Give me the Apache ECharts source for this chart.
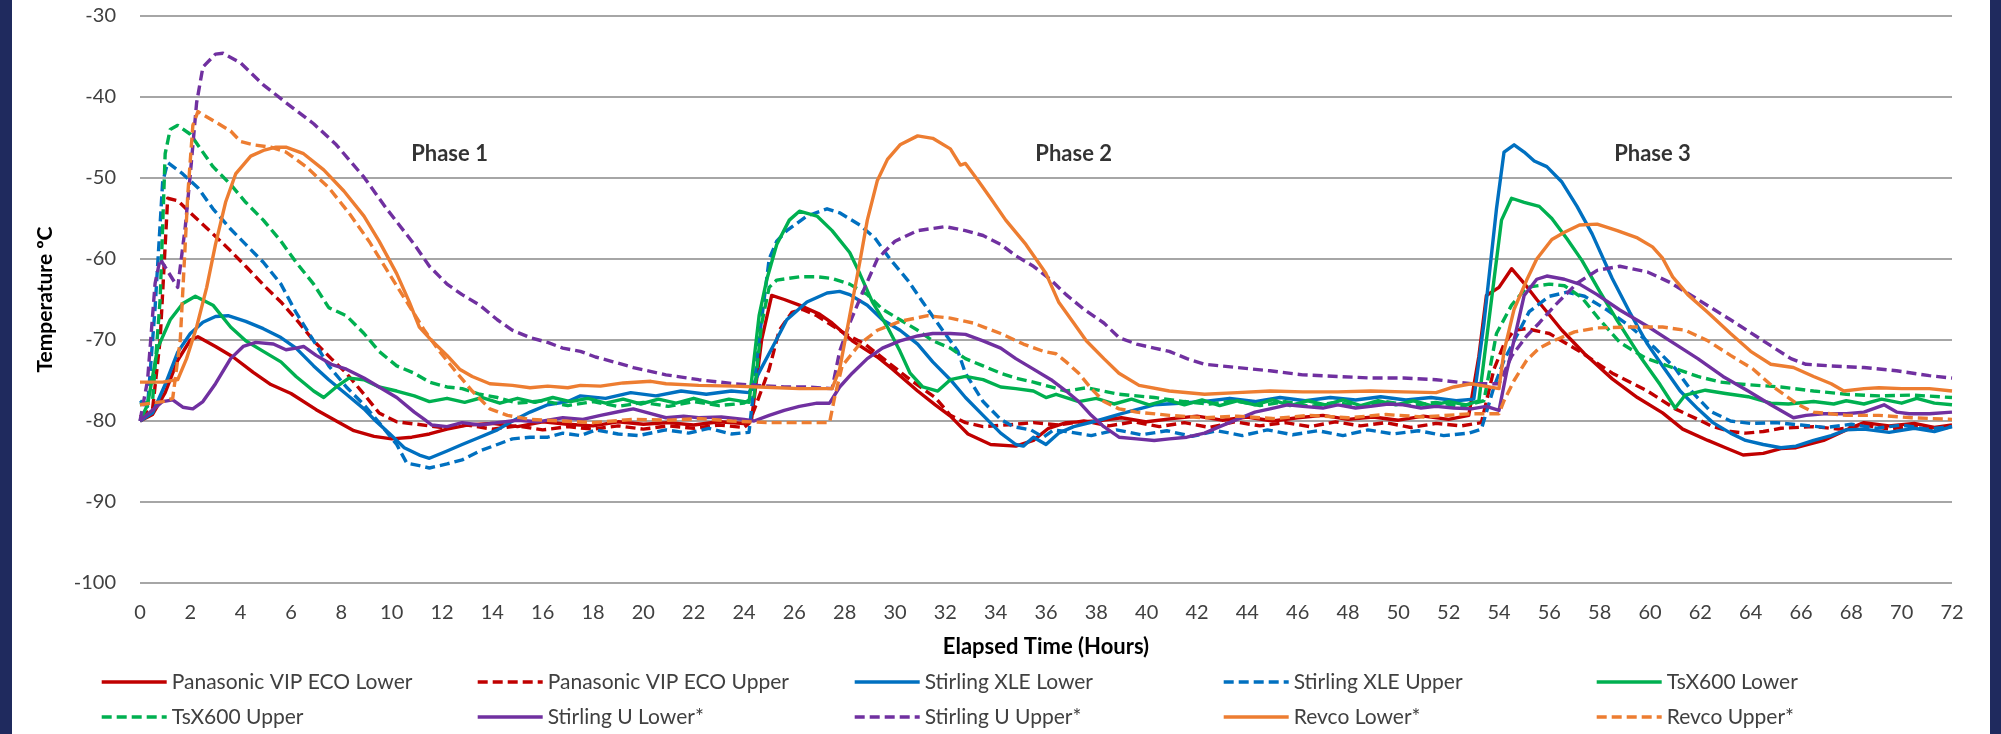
<!DOCTYPE html>
<html>
<head>
<meta charset="utf-8">
<script src="https://cdn.jsdelivr.net/npm/echarts@6/dist/echarts.min.js"></script>
<style>
html,body{margin:0;padding:0;background:#ffffff;}
#chart{width:2001px;height:734px;}
</style>
</head>
<body>
<div id="chart"></div>
<script>
// ---- Tick / label data ----
const xMin = 0, xMax = 72, xStep = 2;
const yMin = -100, yMax = -30, yStep = 10;
const phaseNames = ['Phase 1', 'Phase 2', 'Phase 3'];
const phaseHours = [12.3, 37.1, 60.1];
const phaseTemps = [-47, -47, -47];

const seriesNames = [
  'Panasonic VIP ECO Lower', 'Panasonic VIP ECO Upper',
  'Stirling XLE Lower', 'Stirling XLE Upper',
  'TsX600 Lower', 'TsX600 Upper',
  'Stirling U Lower*', 'Stirling U Upper*',
  'Revco Lower*', 'Revco Upper*'
];

// ---- Series values: [elapsed hours, temperature °C] ----
const panasonicLower = [[0,-80],[0.5,-79.2],[1,-76.5],[1.5,-72.5],[2,-70],[2.3,-69.6],[3,-70.8],[3.7,-72.1],[4.5,-74],[5.2,-75.5],[6,-76.6],[7,-78.6],[7.8,-80],[8.5,-81.2],[9.3,-81.9],[10,-82.2],[10.8,-82],[11.5,-81.6],[12.2,-81],[13,-80.5],[14,-80.3],[15,-80.7],[16,-80.1],[17,-80.4],[18,-80.6],[19,-80.1],[20,-80.4],[21,-80.2],[22,-80.5],[23,-80.1],[24,-80.3],[24.3,-79.8],[24.7,-70],[25.1,-64.5],[25.6,-65],[26.2,-65.7],[27,-66.8],[27.5,-67.9],[28.3,-70.1],[29.3,-72.1],[29.9,-73.6],[30.9,-76.3],[31.6,-78],[32.2,-79.4],[32.9,-81.6],[33.8,-82.9],[34.8,-83.1],[35.5,-82.4],[36.1,-80.9],[36.8,-80.2],[38,-80],[39,-79.6],[40,-80.1],[41,-79.7],[42,-79.4],[43,-79.9],[44,-79.5],[45,-80],[46,-79.6],[47,-79.3],[48,-79.8],[49,-79.5],[50,-79.9],[51,-79.4],[52,-79.8],[52.8,-79.3],[53.2,-72],[53.5,-64.5],[54,-63.5],[54.5,-61.2],[55,-63],[55.5,-65],[56.5,-68.8],[57.4,-71.7],[58.5,-74.8],[59.5,-77.1],[60.5,-79],[61.3,-81],[62.3,-82.4],[63,-83.3],[63.7,-84.2],[64.5,-84],[65.2,-83.4],[65.8,-83.3],[66.9,-82.4],[67.8,-81.1],[68.5,-80.2],[69.5,-80.6],[70.5,-80.3],[71.3,-80.8],[72,-80.5]];

const panasonicUpper = [[0,-79.5],[0.5,-78.5],[0.8,-70],[1.1,-52.5],[1.5,-52.8],[2,-54.3],[2.9,-56.9],[3.6,-59],[4.2,-60.9],[5,-63.5],[5.6,-65.3],[6.3,-67.8],[6.9,-70.1],[7.6,-72.3],[8.2,-74.1],[8.9,-76.7],[9.5,-79],[10.2,-80.1],[11,-80.4],[12,-80.8],[13,-80.5],[14,-81],[15,-80.6],[16,-81.1],[17,-80.7],[18,-81],[19,-80.6],[20,-81],[21,-80.6],[22,-80.9],[23,-80.5],[24,-80.8],[24.2,-80.3],[24.6,-77],[25,-73.6],[25.4,-68.8],[25.9,-66.6],[26.3,-66.2],[26.9,-67],[28,-69.2],[28.8,-70.5],[29.7,-72.7],[30.6,-74.9],[31.6,-77.1],[32.2,-79.3],[32.8,-80.2],[33.5,-80.7],[34.8,-80.4],[35.5,-80.2],[36.5,-80.5],[37.5,-80],[38.5,-80.6],[39.5,-80.1],[40.5,-80.7],[41.5,-80.2],[42.5,-80.8],[43.5,-80.1],[44.5,-80.6],[45.5,-80.2],[46.5,-80.7],[47.5,-80.1],[48.5,-80.6],[49.5,-80.2],[50.5,-80.8],[51.5,-80.3],[52.5,-80.6],[53.3,-80.2],[53.8,-73.6],[54.2,-70.5],[54.6,-68.8],[55.1,-68.6],[56,-69.2],[57.2,-71.4],[58.5,-74.1],[59.9,-76.3],[61,-78.5],[61.9,-79.8],[62.5,-80.7],[63.2,-81.3],[63.8,-81.5],[64.5,-81.3],[65.2,-80.9],[66.5,-80.7],[67.5,-81],[68.5,-80.5],[69.5,-81],[70.5,-80.6],[71.3,-81.1],[72,-80.7]];

const stirlingXleLower = [[0,-80],[0.5,-79],[1,-75.5],[1.5,-71.5],[2,-69.2],[2.5,-67.8],[3,-67.1],[3.5,-67],[4.2,-67.7],[4.9,-68.6],[5.6,-69.7],[6.2,-71],[6.9,-73.2],[7.5,-74.9],[8.2,-76.7],[8.9,-78.5],[9.3,-79.8],[9.9,-81.5],[10.5,-83.3],[11.1,-84.2],[11.5,-84.6],[12.2,-83.7],[12.8,-82.9],[13.5,-82],[14.2,-81.1],[14.8,-80],[15.5,-78.9],[16.2,-78],[17,-77.6],[17.5,-76.9],[18.5,-77.2],[19.5,-76.5],[20.5,-76.9],[21.5,-76.3],[22.5,-76.7],[23.5,-76.3],[24.2,-76.5],[24.6,-74],[25.2,-70.5],[25.7,-67.5],[26.5,-65.3],[27.3,-64.2],[27.8,-64],[28.2,-64.4],[28.9,-65.7],[29.5,-67.5],[30.2,-68.8],[30.9,-70.5],[31.5,-72.7],[32.2,-74.9],[32.8,-77.1],[33.5,-79.3],[34.2,-81.5],[34.8,-82.9],[35.1,-83.1],[35.5,-82],[36,-82.9],[36.5,-81.5],[37.1,-80.7],[38,-80],[39,-79.1],[40.3,-78],[41.3,-77.8],[42.3,-77.6],[43.3,-77.2],[44.3,-77.6],[45.3,-77.1],[46.3,-77.5],[47.3,-77.1],[48.3,-77.4],[49.3,-77],[50.3,-77.4],[51.3,-77.1],[52.3,-77.5],[53,-77.3],[53.4,-68],[53.9,-53.8],[54.2,-46.8],[54.6,-45.9],[55,-46.8],[55.4,-47.9],[55.9,-48.6],[56.5,-50.5],[57.1,-53.5],[57.7,-56.9],[58.5,-62.4],[59.2,-66.6],[59.9,-70.5],[60.5,-73.2],[61.2,-76.3],[61.9,-78.5],[62.5,-80.2],[63.2,-81.5],[63.8,-82.4],[64.5,-82.9],[65.2,-83.3],[65.8,-83.1],[66.5,-82.4],[67.2,-81.8],[67.8,-81.1],[68.5,-81],[69.5,-81.4],[70.5,-80.9],[71.3,-81.3],[72,-80.7]];

const stirlingXleUpper = [[0,-77.5],[0.3,-78.2],[0.6,-66],[0.9,-50.5],[1.1,-48.1],[1.7,-49.5],[2.3,-51.2],[2.9,-53.8],[3.6,-56.3],[4.2,-58.2],[4.9,-60.4],[5.6,-63.1],[6.2,-66.6],[6.9,-70.1],[7.5,-73.2],[8.2,-75.8],[8.9,-78],[9.5,-80.2],[10.2,-82.9],[10.6,-85.2],[11.1,-85.5],[11.5,-85.8],[12.2,-85.3],[12.8,-84.8],[13.5,-83.7],[14.2,-82.9],[14.8,-82.2],[15.5,-82],[16.2,-82],[16.8,-81.5],[17.5,-81.8],[18.1,-81.1],[19,-81.6],[19.8,-81.8],[20.9,-81.1],[21.8,-81.5],[22.6,-80.9],[23.5,-81.6],[24.2,-81.4],[24.6,-70],[25,-60],[25.3,-57.8],[25.7,-56.5],[26.5,-54.7],[27.3,-53.8],[27.8,-54.3],[28.6,-55.8],[29.2,-57.4],[29.8,-60],[30.5,-62.6],[31.1,-65.3],[31.8,-68.4],[32.5,-71.4],[32.8,-74.1],[33.5,-77.6],[34.2,-79.8],[34.7,-80.7],[35.4,-81.1],[35.9,-82],[36.3,-81.1],[36.8,-81.3],[37.8,-81.8],[38.8,-81.1],[39.8,-81.7],[40.8,-81.2],[41.8,-81.9],[42.8,-81.2],[43.8,-81.8],[44.8,-81.1],[45.8,-81.7],[46.8,-81.2],[47.8,-81.8],[48.8,-81.1],[49.8,-81.6],[50.8,-81.2],[51.8,-81.8],[52.8,-81.5],[53.3,-81],[53.8,-75.8],[54.2,-72.5],[54.7,-69.5],[55.2,-66.5],[56,-64.6],[56.7,-64.1],[57.4,-64.6],[58.3,-66.3],[59.2,-68.3],[60.2,-71],[61,-73.5],[61.7,-76.5],[62.4,-78.8],[63.2,-80],[64,-80.3],[65,-80.2],[66,-80.5],[67,-80.8],[68,-80.4],[69,-80.9],[70,-80.5],[71,-81],[72,-80.7]];

const tsx600Lower = [[0,-80],[0.3,-78],[0.7,-71],[1.2,-67.5],[1.7,-65.5],[2.2,-64.6],[2.9,-65.7],[3.6,-68.4],[4.2,-70.1],[4.9,-71.4],[5.6,-72.7],[6.2,-74.5],[6.9,-76.3],[7.3,-77.1],[7.8,-75.8],[8.3,-74.7],[8.9,-74.9],[9.5,-75.8],[10.2,-76.3],[10.9,-76.9],[11.5,-77.6],[12.2,-77.2],[12.9,-77.7],[13.6,-77.1],[14.3,-77.8],[15,-77.2],[15.7,-77.7],[16.4,-77.1],[17.1,-77.6],[17.8,-77.2],[18.5,-77.8],[19.2,-77.3],[19.9,-77.9],[20.6,-77.3],[21.3,-77.8],[22,-77.2],[22.7,-77.8],[23.4,-77.3],[24.2,-77.7],[24.6,-67],[24.9,-62.6],[25.3,-58.2],[25.8,-55.2],[26.2,-54.1],[26.9,-54.7],[27.5,-56.5],[28.2,-59.2],[28.6,-61.8],[29.1,-65.3],[29.7,-68.4],[30.2,-71.4],[30.6,-74.1],[31.1,-75.8],[31.7,-76.3],[32.2,-74.9],[32.8,-74.5],[33.5,-74.9],[34.2,-75.8],[34.8,-76],[35.5,-76.3],[36,-77.1],[36.4,-76.7],[37.3,-77.6],[38,-77.2],[38.7,-77.9],[39.4,-77.3],[40.1,-78],[40.8,-77.4],[41.5,-78],[42.2,-77.4],[42.9,-78.1],[43.6,-77.5],[44.3,-78],[45,-77.4],[45.7,-78.1],[46.4,-77.5],[47.1,-78],[47.8,-77.4],[48.5,-78.1],[49.2,-77.5],[49.9,-78],[50.6,-77.5],[51.3,-78.1],[52,-77.6],[52.7,-78],[53.2,-77.5],[53.8,-62.6],[54.1,-55.2],[54.5,-52.5],[55,-53],[55.6,-53.5],[56.1,-55],[56.7,-57.5],[57.3,-60.2],[58,-64],[58.7,-67.6],[59.6,-72],[60.4,-75.5],[61,-78.4],[61.4,-76.8],[62.2,-76.2],[63,-76.6],[63.9,-77],[64.8,-77.8],[65.5,-77.9],[66.5,-77.6],[67.3,-77.9],[67.8,-77.5],[68.5,-77.9],[69.2,-77.3],[70,-77.8],[70.6,-77.2],[71.3,-77.8],[72,-78]];

const tsx600Upper = [[0,-78],[0.5,-77.5],[0.8,-65],[1,-47],[1.2,-44],[1.5,-43.5],[2,-44.6],[2.9,-48.6],[3.6,-50.8],[4.2,-53],[4.9,-55.2],[5.6,-57.8],[6.2,-60.4],[6.9,-63.1],[7.5,-66],[8.2,-67],[8.9,-69.2],[9.5,-71.4],[10.2,-73.2],[10.9,-74.1],[11.5,-75.2],[12.2,-75.8],[12.8,-76],[13.5,-76.7],[14.2,-77.1],[15,-77.8],[16,-77.5],[17,-78.1],[18,-77.6],[19,-78.2],[20,-77.7],[21,-78.2],[22,-77.6],[23,-78.1],[24,-77.8],[24.4,-77],[24.7,-68],[25,-63.5],[25.3,-62.6],[26.2,-62.2],[26.9,-62.2],[27.5,-62.4],[28.2,-63.1],[28.9,-64.4],[29.5,-66.2],[30.2,-67.5],[30.9,-68.8],[31.5,-70.1],[32.2,-71],[32.8,-72.3],[33.5,-73.2],[34.2,-74.1],[34.8,-74.7],[35.5,-75.2],[36.2,-75.8],[36.8,-76.3],[37.6,-75.9],[38.9,-76.7],[40.3,-77.1],[41.5,-77.6],[42.5,-77.9],[43.5,-77.5],[44.5,-78.1],[45.5,-77.6],[46.5,-78.2],[47.5,-77.7],[48.5,-78.2],[49.5,-77.6],[50.5,-78.1],[51.5,-77.7],[52.5,-78.2],[53.4,-77.5],[53.9,-69.2],[54.5,-65.7],[55.1,-63.5],[56,-63.1],[56.6,-63.3],[57.3,-64.8],[58,-67.5],[58.8,-70.3],[59.8,-72.2],[60.8,-73.3],[61.9,-74.5],[62.8,-75.2],[63.8,-75.5],[65.2,-75.8],[66.5,-76.3],[67.8,-76.7],[69.1,-76.9],[70.4,-76.8],[72,-77.1]];

const stirlingULower = [[0,-80],[0.4,-78.9],[0.9,-77.6],[1.3,-77.4],[1.7,-78.3],[2.1,-78.5],[2.5,-77.6],[3,-75.4],[3.6,-72.3],[4.1,-70.8],[4.6,-70.3],[5.3,-70.5],[5.8,-71.2],[6.2,-71],[6.5,-70.8],[7,-71.9],[7.6,-73],[8.2,-73.6],[8.9,-74.7],[9.5,-75.8],[10.2,-77.1],[10.9,-78.9],[11.3,-79.8],[11.6,-80.5],[12.2,-80.7],[12.8,-80.2],[13.5,-80.5],[14.2,-80.2],[15,-79.9],[15.8,-80.1],[16.8,-79.6],[17.6,-79.8],[18.3,-79.3],[19.1,-78.8],[19.6,-78.5],[20.3,-79.1],[20.9,-79.6],[21.6,-79.4],[22.2,-79.6],[23.1,-79.5],[24,-79.8],[24.4,-80],[25,-79.3],[25.6,-78.7],[26.2,-78.2],[26.9,-77.8],[27.4,-77.8],[27.8,-75.8],[28.3,-74.1],[28.9,-72.3],[29.5,-71],[30.2,-70.1],[30.9,-69.5],[31.5,-69.2],[32.2,-69.2],[32.8,-69.3],[33.5,-70.1],[34.2,-71],[34.8,-72.3],[35.5,-73.6],[36.2,-74.9],[36.8,-76.3],[37.3,-77.6],[37.8,-79.3],[38.3,-80.7],[38.9,-82],[39.6,-82.2],[40.3,-82.4],[40.9,-82.2],[41.6,-82],[42.3,-81.5],[42.9,-80.7],[43.6,-79.8],[44.3,-78.9],[44.9,-78.5],[45.6,-78],[46.2,-78.2],[47,-78.4],[47.6,-78],[48.3,-78.4],[48.9,-78.2],[49.6,-77.9],[50.2,-78],[50.9,-78.4],[51.5,-78.2],[52.2,-78.4],[52.9,-78.5],[53.5,-78.2],[54,-78.7],[54.3,-74],[54.6,-70],[55,-64.5],[55.5,-62.5],[55.9,-62.1],[56.6,-62.5],[57.2,-63.1],[57.9,-64.4],[58.8,-66.3],[59.9,-68.3],[60.8,-70.1],[61.9,-72.3],[62.9,-74.5],[63.9,-76.3],[64.8,-78],[65.7,-79.6],[66.2,-79.3],[66.9,-79.1],[67.8,-79.1],[68.5,-78.9],[69.3,-78],[69.8,-78.9],[70.3,-79.1],[71.1,-79.1],[72,-78.9]];

const stirlingUUpper = [[0,-80],[0.3,-75],[0.6,-63],[0.8,-60],[1.1,-61.5],[1.5,-63.5],[1.8,-56],[2,-49.5],[2.25,-40.7],[2.5,-36.3],[3,-34.7],[3.3,-34.6],[4,-35.8],[4.9,-38.5],[5.8,-40.7],[6.9,-43.3],[7.8,-45.9],[8.9,-49.9],[9.8,-53.8],[10.9,-58.2],[11.5,-60.9],[12.2,-63.1],[12.8,-64.4],[13.5,-65.7],[14.2,-67.5],[14.8,-68.8],[15.5,-69.7],[16.2,-70.3],[16.8,-71],[17.5,-71.4],[18.1,-72.1],[18.7,-72.6],[19.6,-73.4],[20.9,-74.3],[22.2,-74.9],[23.6,-75.4],[24.5,-75.6],[25.6,-75.8],[26.5,-75.8],[27.5,-76],[27.8,-71.4],[28.2,-67.9],[28.8,-63.5],[29.3,-60],[30,-57.8],[30.9,-56.5],[32,-56],[32.8,-56.5],[33.5,-57.1],[34.2,-58.2],[34.8,-59.6],[35.5,-60.9],[36.2,-62.6],[36.8,-64.4],[37.5,-66.2],[38.3,-67.9],[38.9,-69.7],[39.6,-70.5],[40.3,-71],[40.9,-71.4],[41.6,-72.3],[42.3,-73],[43.6,-73.4],[44.9,-73.8],[46.2,-74.3],[47.6,-74.5],[48.9,-74.7],[50.2,-74.7],[51.5,-74.9],[52.9,-75.4],[54,-75.4],[54.5,-72],[55.1,-69.5],[55.6,-67.9],[56.2,-65.8],[57.1,-63],[57.9,-61.4],[58.8,-60.9],[59.9,-61.6],[60.8,-62.9],[61.9,-65],[63.2,-67.5],[64.5,-70.1],[65.6,-72.3],[66.2,-73],[67.2,-73.2],[68.5,-73.4],[69.8,-73.8],[71.1,-74.4],[72,-74.7]];

const revcoLower = [[0,-75.2],[0.9,-75.2],[1.5,-74.9],[1.85,-72.3],[2.25,-68.4],[2.65,-63.5],[3,-58.2],[3.4,-53],[3.8,-49.5],[4.4,-47.3],[4.9,-46.6],[5.4,-46.2],[5.8,-46.2],[6.5,-47],[7.3,-49],[8.1,-51.6],[8.9,-54.7],[9.5,-57.8],[10.2,-61.8],[10.7,-65.3],[11.1,-68.4],[11.6,-70.1],[12.2,-71.9],[12.7,-73.6],[13.2,-74.5],[13.9,-75.4],[14.8,-75.6],[15.5,-75.9],[16.2,-75.7],[17,-75.9],[17.5,-75.6],[18.3,-75.7],[19.2,-75.3],[20.3,-75.1],[20.9,-75.4],[22.2,-75.6],[23.6,-75.7],[24.6,-75.8],[26.2,-76],[27.5,-76],[27.8,-73.6],[28.2,-67],[28.6,-60.4],[28.9,-55.2],[29.3,-50.3],[29.7,-47.7],[30.2,-45.9],[30.9,-44.8],[31.5,-45.1],[32.2,-46.4],[32.6,-48.4],[32.8,-48.2],[33.3,-50.3],[33.8,-52.5],[34.4,-55.2],[35.2,-58.2],[36,-61.8],[36.5,-65.3],[37.1,-67.9],[37.6,-70.1],[38.3,-72.3],[38.9,-74.1],[39.7,-75.6],[40.9,-76.3],[42.3,-76.7],[43.6,-76.5],[44.9,-76.3],[46.2,-76.4],[47.6,-76.4],[48.9,-76.3],[50.2,-76.4],[51.5,-76.5],[52.2,-75.8],[52.9,-75.4],[54,-76],[54.2,-71.4],[54.6,-66.2],[55.1,-62.6],[55.5,-60],[56.1,-57.6],[56.6,-56.7],[57.2,-55.8],[57.9,-55.7],[58.7,-56.5],[59.5,-57.4],[60.1,-58.5],[60.5,-59.9],[60.9,-62.2],[61.5,-64.4],[62.3,-66.6],[63.2,-69.2],[64,-71.4],[64.8,-73],[65.7,-73.4],[66.5,-74.5],[67.2,-75.4],[67.7,-76.3],[68.5,-76],[69.1,-75.9],[70,-76],[71.1,-76],[72,-76.3]];

const revcoUpper = [[0,-78],[0.9,-77.6],[1.3,-77.2],[1.6,-70],[1.9,-52],[2.1,-43.5],[2.3,-41.8],[2.9,-42.9],[3.6,-44.2],[4,-45.5],[4.5,-45.9],[5.2,-46.2],[5.8,-46.8],[6.6,-48.6],[7.5,-51.2],[8.3,-54.3],[9.1,-57.8],[9.9,-61.8],[10.6,-65.3],[11.3,-68.8],[11.9,-71.4],[12.6,-74.1],[13.2,-76.3],[13.9,-78.5],[14.6,-79.3],[15.5,-79.8],[16.8,-80],[18,-80.2],[19.6,-79.8],[21,-79.9],[22.2,-79.7],[23.5,-80],[25,-80.2],[26.2,-80.2],[27.4,-80.2],[27.6,-77.1],[27.9,-73.2],[28.6,-70.5],[29.3,-68.8],[30.2,-67.7],[31.3,-67],[32.2,-67.3],[33.1,-67.9],[34.2,-69.2],[35.1,-70.5],[35.9,-71.4],[36.4,-71.7],[36.8,-72.7],[37.3,-74.1],[37.8,-76],[38.3,-77.6],[38.9,-78.5],[39.6,-78.9],[40.9,-79.3],[42.3,-79.6],[43.6,-79.4],[45,-79.7],[46.5,-79.3],[48,-79.6],[49.5,-79.2],[51,-79.5],[52.9,-79.1],[54,-79.1],[54.2,-77.5],[54.6,-75],[55.1,-72.5],[55.6,-71],[56.1,-70.2],[57,-69],[57.9,-68.5],[59.2,-68.4],[60.5,-68.4],[61.4,-68.8],[62.3,-70.1],[63.2,-71.9],[64.1,-73.6],[64.9,-75.8],[65.9,-78],[66.5,-78.9],[67.8,-79.3],[69.1,-79.3],[70.4,-79.6],[72,-79.8]];

const seriesData = [panasonicLower, panasonicUpper, stirlingXleLower, stirlingXleUpper,
  tsx600Lower, tsx600Upper, stirlingULower, stirlingUUpper, revcoLower, revcoUpper];

// ---- Styling ----
const RED = '#C00000', BLUE = '#0070C0', GREEN = '#00B050', PURPLE = '#7030A0', ORANGE = '#ED7D31';
const seriesColors = [RED, RED, BLUE, BLUE, GREEN, GREEN, PURPLE, PURPLE, ORANGE, ORANGE];
const dashed = [false, true, false, true, false, true, false, true, false, true];
const FONT = 'Lato, "Liberation Sans", sans-serif';

const chart = echarts.init(document.getElementById('chart'), null, {renderer: 'canvas'});

const lineSeries = seriesNames.map((name, i) => ({
  name: name,
  type: 'line',
  data: seriesData[i],
  symbol: 'none',
  showSymbol: false,
  smooth: false,
  silent: true,
  color: seriesColors[i],
  lineStyle: {
    color: seriesColors[i],
    width: 3.4,
    type: dashed[i] ? [10, 5] : 'solid',
    cap: 'butt',
    join: 'round'
  },
  z: 2 + i
}));

const phaseSeries = {
  name: 'phases',
  type: 'scatter',
  silent: true,
  symbolSize: 0,
  data: phaseHours.map((h, i) => ({value: [h, phaseTemps[i]], name: phaseNames[i]})),
  label: {
    show: true,
    position: 'inside',
    formatter: p => p.name,
    fontFamily: FONT,
    fontWeight: 'bold',
    fontSize: 22,
    color: '#000000'
  },
  z: 20
};

const legendCols = [
  [seriesNames[0], seriesNames[5]],
  [seriesNames[1], seriesNames[6]],
  [seriesNames[2], seriesNames[7]],
  [seriesNames[3], seriesNames[8]],
  [seriesNames[4], seriesNames[9]]
];
const legendLefts = [100, 476, 853, 1222, 1595];

const legends = legendCols.map((names, i) => ({
  data: names,
  orient: 'vertical',
  left: legendLefts[i],
  top: 671,
  itemWidth: 65,
  itemHeight: 14,
  itemGap: 13,
  itemTextGap: 5,
  selectedMode: false,
  padding: 0,
  itemStyle: {opacity: 0},
  lineStyle: {width: 3.4},
  textStyle: {fontFamily: FONT, fontSize: 21, color: '#404040', lineHeight: 22}
}));

chart.setOption({
  animation: false,
  backgroundColor: '#ffffff',
  grid: {left: 140, right: 49, top: 16, bottom: 151, containLabel: false},
  xAxis: {
    type: 'value',
    min: xMin, max: xMax, interval: xStep,
    name: 'Elapsed Time (Hours)',
    nameLocation: 'middle',
    nameGap: 53,
    nameTextStyle: {fontFamily: FONT, fontWeight: 'bold', fontSize: 22, color: '#000000'},
    axisLine: {show: false},
    axisTick: {show: false},
    splitLine: {show: false},
    axisLabel: {fontFamily: FONT, fontSize: 20, color: '#404040', margin: 20}
  },
  yAxis: {
    type: 'value',
    min: yMin, max: yMax, interval: yStep,
    name: 'Temperature ºC',
    nameLocation: 'middle',
    nameRotate: 90,
    nameGap: 84,
    nameTextStyle: {fontFamily: FONT, fontWeight: 'bold', fontSize: 21, color: '#000000'},
    axisLine: {show: false},
    axisTick: {show: false},
    splitLine: {show: true, lineStyle: {color: '#A6A6A6', width: 2}},
    axisLabel: {fontFamily: FONT, fontSize: 20, color: '#404040', margin: 24}
  },
  legend: legends,
  graphic: [
    {type: 'rect', left: 0, top: 0, shape: {width: 12, height: 734}, style: {fill: '#1F2A5E'}, silent: true},
    {type: 'rect', right: 0, top: 0, shape: {width: 11, height: 734}, style: {fill: '#1F2A5E'}, silent: true}
  ],
  series: lineSeries.concat([phaseSeries])
});
</script>
</body>
</html>
